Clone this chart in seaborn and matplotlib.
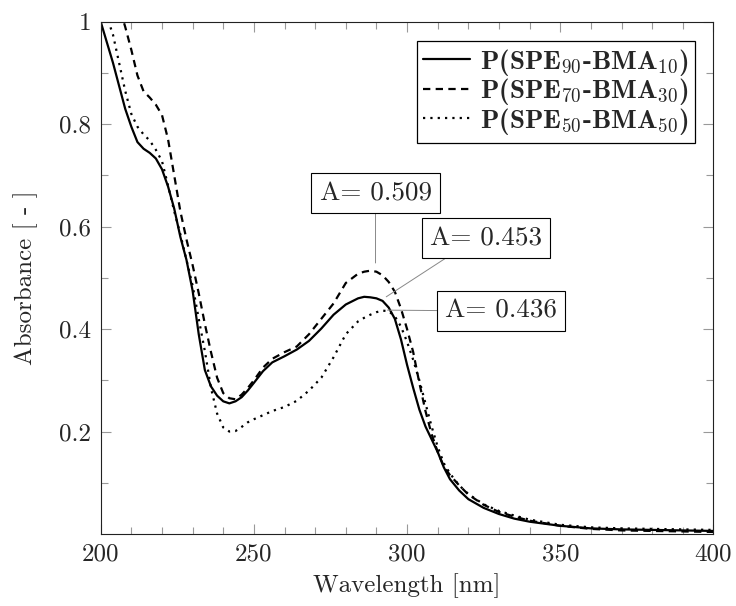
import numpy as np
import pandas as pd
import matplotlib
matplotlib.use("Agg")
import matplotlib.pyplot as plt
from matplotlib.ticker import FixedLocator, FixedFormatter
import seaborn as sns

# wavelength grid [nm]
wavelength = [200, 202, 204, 206, 208, 210, 212, 214, 216, 218, 220, 222, 224, 226, 228,
              230, 232, 234, 236, 238, 240, 242, 244, 246, 248, 250, 253, 256, 260, 264,
              268, 272, 276, 280, 284, 286, 288, 290, 292, 294, 296, 298, 300, 302, 304,
              306, 308, 310, 312, 314, 317, 320, 325, 330, 335, 340, 350, 360, 370, 380,
              390, 400]

abs_90 = [1.0, 0.96, 0.92, 0.875, 0.83, 0.795, 0.765, 0.752, 0.744, 0.733, 0.712, 0.678, 0.635, 0.58, 0.535,
          0.475, 0.39, 0.32, 0.288, 0.27, 0.259, 0.255, 0.259, 0.267, 0.28, 0.295, 0.318, 0.335, 0.347, 0.36,
          0.377, 0.401, 0.428, 0.448, 0.46, 0.463, 0.462, 0.46, 0.455, 0.442, 0.42, 0.38, 0.33, 0.285, 0.243,
          0.21, 0.185, 0.16, 0.13, 0.107, 0.085, 0.068, 0.051, 0.039, 0.03, 0.024, 0.016, 0.011, 0.009, 0.008,
          0.007, 0.006]

abs_70 = [1.15, 1.11, 1.07, 1.03, 0.99, 0.945, 0.895, 0.864, 0.852, 0.838, 0.818, 0.77, 0.70, 0.63, 0.575,
          0.525, 0.47, 0.41, 0.355, 0.305, 0.275, 0.265, 0.263, 0.272, 0.285, 0.30, 0.325, 0.342, 0.355, 0.366,
          0.39, 0.42, 0.45, 0.49, 0.508, 0.512, 0.514, 0.512, 0.505, 0.492, 0.473, 0.44, 0.40, 0.355, 0.295,
          0.24, 0.195, 0.16, 0.132, 0.115, 0.095, 0.077, 0.057, 0.043, 0.034, 0.026, 0.016, 0.01, 0.007, 0.006,
          0.005, 0.004]

abs_50 = [1.07, 1.01, 0.975, 0.92, 0.865, 0.82, 0.795, 0.78, 0.768, 0.75, 0.728, 0.68, 0.63, 0.585, 0.535,
          0.485, 0.42, 0.357, 0.285, 0.235, 0.208, 0.2, 0.201, 0.209, 0.218, 0.224, 0.232, 0.24, 0.248, 0.26,
          0.28, 0.305, 0.345, 0.39, 0.415, 0.422, 0.428, 0.433, 0.436, 0.435, 0.425, 0.405, 0.375, 0.34, 0.3,
          0.255, 0.21, 0.17, 0.138, 0.118, 0.095, 0.078, 0.058, 0.045, 0.036, 0.028, 0.018, 0.013, 0.011, 0.01,
          0.009, 0.008]

labels = ["P(SPE$_{90}$-BMA$_{10}$)", "P(SPE$_{70}$-BMA$_{30}$)", "P(SPE$_{50}$-BMA$_{50}$)"]

# peak annotations: text, peak point, box centre, line attach point on box
peak_text = ["A= 0.509", "A= 0.453", "A= 0.436"]
peak_xy = [(289.7, 0.529), (293.2, 0.463), (293.6, 0.437)]
box_xy = [(289.7, 0.665), (325.7, 0.577), (330.7, 0.436)]
box_rel = [(0.5, 0.0), (0.25, 0.0), (0.0, 0.5)]

x_major = [200, 250, 300, 350, 400]
x_minor = [210, 220, 230, 240, 260, 270, 280, 290, 310, 320, 330, 340, 360, 370, 380, 390]
y_major = [0.2, 0.4, 0.6, 0.8, 1.0]
y_minor = [0.1, 0.3, 0.5, 0.7, 0.9]
y_ticklabels = ["0.2", "0.4", "0.6", "0.8", "1"]

df = pd.DataFrame({
    "Wavelength": wavelength * 3,
    "Absorbance": abs_90 + abs_70 + abs_50,
    "Sample": [labels[0]] * len(wavelength) + [labels[1]] * len(wavelength) + [labels[2]] * len(wavelength),
})

sns.set_style("ticks")
plt.rcParams["font.family"] = "serif"
plt.rcParams["font.serif"] = ["cmr10"]
plt.rcParams["mathtext.fontset"] = "cm"
plt.rcParams["axes.unicode_minus"] = False

FS = 18

fig = plt.figure(figsize=(7.36, 6.06), dpi=100)
ax = fig.add_axes([0.1368, 0.1188, 0.9694 - 0.1368, 0.9642 - 0.1188])

sns.lineplot(data=df, x="Wavelength", y="Absorbance", style="Sample", style_order=labels,
             dashes={labels[0]: "", labels[1]: (3.3, 2.4), labels[2]: (1.0, 2.3)},
             color="black", linewidth=1.6, estimator=None, sort=False, legend=False, ax=ax)

ax.set_xlim(200, 400)
ax.set_ylim(0, 1)
ax.xaxis.set_major_locator(FixedLocator(x_major))
ax.xaxis.set_minor_locator(FixedLocator(x_minor))
ax.yaxis.set_major_locator(FixedLocator(y_major))
ax.yaxis.set_minor_locator(FixedLocator(y_minor))
ax.yaxis.set_major_formatter(FixedFormatter(y_ticklabels))
ax.tick_params(which="both", direction="in", top=True, right=True, color="#999999", width=0.8,
               labelsize=FS)
ax.tick_params(which="major", length=7.5, pad=7)
ax.tick_params(which="minor", length=5)
for s in ax.spines.values():
    s.set_linewidth(0.8)
    s.set_color("#222222")

ax.set_xlabel("Wavelength [nm]", fontsize=FS, labelpad=5)
ax.set_ylabel("Absorbance [ - ]", fontsize=FS, labelpad=15)

leg = ax.legend(handles=ax.lines[:3], labels=labels, loc="upper right", fancybox=False,
                edgecolor="black", framealpha=1, handlelength=1.75, handletextpad=0.35,
                borderaxespad=0.7, labelspacing=-0.05, borderpad=0.22,
                prop={"family": "cmb10", "size": 19.5})
leg.get_frame().set_linewidth(0.9)

for t, p, b, r in zip(peak_text, peak_xy, box_xy, box_rel):
    ax.annotate(t, xy=p, xytext=b, textcoords="data", ha="center", va="center", fontsize=19.5,
                bbox=dict(boxstyle="square,pad=0.3", fc="white", ec="black", lw=0.8),
                arrowprops=dict(arrowstyle="-", color="#888888", lw=0.7, relpos=r,
                                shrinkA=0, shrinkB=0))

fig.savefig("out.png", dpi=100)
